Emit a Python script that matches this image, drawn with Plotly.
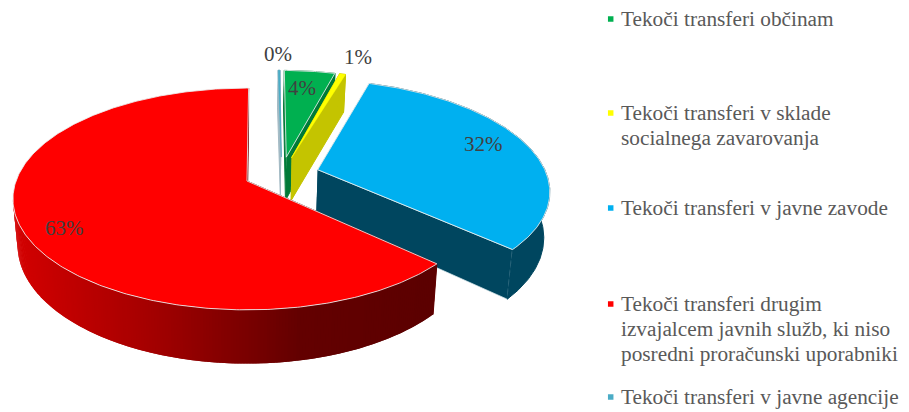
import numpy as np
import plotly.graph_objects as go

categories = ["Tekoči transferi občinam", "Tekoči transferi v sklade socialnega zavarovanja",
              "Tekoči transferi v javne zavode",
              "Tekoči transferi drugim izvajalcem javnih služb, ki niso posredni proračunski uporabniki",
              "Tekoči transferi v javne agencije"]
legend_lines = [["Tekoči transferi občinam"], ["Tekoči transferi v sklade", "socialnega zavarovanja"],
                ["Tekoči transferi v javne zavode"],
                ["Tekoči transferi drugim", "izvajalcem javnih služb, ki niso", "posredni proračunski uporabniki"],
                ["Tekoči transferi v javne agencije"]]
values = [4.2, 0.5, 31.97, 63.18, 0.15]
label_text = ["4%", "1%", "32%", "63%", "0%"]
top_colors = ["#00B050", "#FFFF00", "#00B0F0", "#FF0000", "#4BACC6"]
wall_colors = ["#007A38", "#C4C400", "#00465F", "#660000", "#A3BAC4"]

FIRST_ANGLE = np.deg2rad(1.0)
CX, CY = 247.0, 181.0
RX, RY, P = 231.0, 108.0, 0.162
EXPL = 0.165
DEPTH = 45.0
SHRINK = 0.98
TXT = "#404040"
LEG = "#595959"
FONT = "Liberation Serif"

fracs = np.array(values) / sum(values)
starts = FIRST_ANGLE + np.concatenate([[0], np.cumsum(fracs)[:-1]]) * 2 * np.pi
ends = FIRST_ANGLE + np.cumsum(fracs) * 2 * np.pi
mids = (starts + ends) / 2
red = 3
base = -EXPL * np.array([np.sin(mids[red]), -np.cos(mids[red])])


def top(x, y):
    f = 1 / (1 - P * np.asarray(y))
    return CX + RX * np.asarray(x) * f, CY + RY * np.asarray(y) * f


def bottom(x, y):
    f = 1 / (1 - P * np.asarray(y))
    sx, sy = top(x, y)
    return CX + (sx - CX) * SHRINK, sy + DEPTH * f


def poly(fig, xs, ys, fill, line=None, w=1):
    fig.add_trace(go.Scatter(x=list(xs), y=list(ys), mode="lines", fill="toself", fillcolor=fill,
                             line=dict(color=line or fill, width=w), hoverinfo="skip", showlegend=False))


def red_wall(sx):
    stops = [(13, (212, 0, 0)), (150, (165, 0, 0)), (300, (100, 0, 0)), (435, (92, 0, 0))]
    xp = [s[0] for s in stops]
    return tuple(float(np.interp(sx, xp, [s[1][i] for s in stops])) for i in range(3))


fig = go.Figure()
for i in [4, 0, 1, 2, 3]:
    ox, oy = base + EXPL * np.array([np.sin(mids[i]), -np.cos(mids[i])])
    th = np.linspace(starts[i], ends[i], max(8, int((ends[i] - starts[i]) * 90)))
    rx, ry = ox + np.sin(th), oy - np.cos(th)
    ax, ay = np.array([ox]), np.array([oy])
    for ex, ey in [(rx[0], ry[0]), (rx[-1], ry[-1])]:
        tx = np.array([ox, ex]); ty = np.array([oy, ey])
        t1 = top(tx, ty); b1 = bottom(tx, ty)
        poly(fig, list(t1[0]) + list(b1[0][::-1]), list(t1[1]) + list(b1[1][::-1]), wall_colors[i],
             "rgba(220,235,240,0.7)" if i == 2 else None)
    t1 = top(rx, ry); b1 = bottom(rx, ry)
    if i == red:
        # only the near rim shows: overlapping strips from its right end to the leftmost point
        left = int(np.argmin(t1[0]))
        xs_t, ys_t, xs_b, ys_b = t1[0][:left + 1], t1[1][:left + 1], b1[0][:left + 1], b1[1][:left + 1]
        for k in range(0, len(xs_t) - 2):
            c = "rgb(%d,%d,%d)" % red_wall(xs_t[k])
            m = k + 2
            poly(fig, [xs_t[m], xs_t[k], xs_b[k], xs_b[m]], [ys_t[m], ys_t[k], ys_b[k], ys_b[m]], c, c, 0.01)
    else:
        poly(fig, list(t1[0]) + list(b1[0][::-1]), list(t1[1]) + list(b1[1][::-1]), wall_colors[i])
    tx = np.concatenate([ax, rx, ax]); ty = np.concatenate([ay, ry, ay])
    s = top(tx, ty)
    if i in (1, 4):
        poly(fig, s[0], s[1], top_colors[i], top_colors[i], 0.5)
    else:
        poly(fig, s[0], s[1], top_colors[i], "rgba(235,240,240,0.85)", 1)

label_pos = [(302, 88), (358, 57), (483, 144), (64, 228), (278, 54)]
for t, (x, y) in zip(label_text, label_pos):
    fig.add_annotation(x=x, y=y, text=t, showarrow=False, font=dict(family=FONT, size=21, color=TXT),
                       xanchor="center", yanchor="middle")

first_y = [19, 113, 208, 304, 397]
pitch = 25
for lines, y0, col in zip(legend_lines, first_y, top_colors):
    for j, ln in enumerate(lines):
        fig.add_annotation(x=619, y=y0 + j * pitch, text=ln, showarrow=False, xanchor="left", yanchor="middle",
                           font=dict(family=FONT, size=21.3, color=LEG))
    fig.add_trace(go.Scatter(x=[610.7], y=[y0], mode="markers",
                             marker=dict(symbol="square", size=5.5, color=col, line=dict(width=0)),
                             hoverinfo="skip", showlegend=False))

fig.update_layout(width=909, height=412, margin=dict(l=0, r=0, t=0, b=0), paper_bgcolor="white",
                  plot_bgcolor="white", showlegend=False,
                  xaxis=dict(range=[0, 909], visible=False, fixedrange=True),
                  yaxis=dict(range=[412, 0], visible=False, fixedrange=True))
fig.write_html("out.html", config=dict(displayModeBar=False),
               post_script="document.body.style.margin='0';document.documentElement.style.overflow='hidden';")
